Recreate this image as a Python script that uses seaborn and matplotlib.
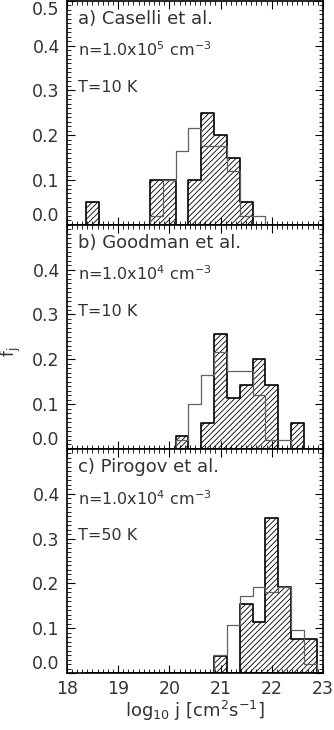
import numpy as np
import pandas as pd
import seaborn as sns
import matplotlib
matplotlib.use("Agg")
import matplotlib.pyplot as plt
from matplotlib.ticker import MultipleLocator

# bin centres (log10 j) and fractions
bin_width = 0.25
bin_edges = np.arange(18.375, 23.2, bin_width).tolist()

panel_labels = ["a) Caselli et al.", "b) Goodman et al.", "c) Pirogov et al."]
density_labels = [r"n=1.0x10$^5$ cm$^{-3}$", r"n=1.0x10$^4$ cm$^{-3}$", r"n=1.0x10$^4$ cm$^{-3}$"]
temp_labels = ["T=10 K", "T=10 K", "T=50 K"]

# observed (hatched)
obs_a_x = [18.5, 19.75, 20.0, 20.5, 20.75, 21.0, 21.25, 21.5]
obs_a_f = [0.05, 0.10, 0.10, 0.10, 0.25, 0.20, 0.15, 0.05]
obs_b_x = [20.25, 20.75, 21.0, 21.25, 21.5, 21.75, 22.0, 22.5]
obs_b_f = [0.0286, 0.0571, 0.257, 0.114, 0.143, 0.200, 0.143, 0.0571]
obs_c_x = [21.0, 21.5, 21.75, 22.0, 22.25, 22.5, 22.75]
obs_c_f = [0.0385, 0.154, 0.115, 0.346, 0.192, 0.077, 0.077]

# model (grey outline)
mod_a_x = [19.75, 20.0, 20.25, 20.5, 20.75, 21.0, 21.25, 21.5, 21.75]
mod_a_f = [0.02, 0.10, 0.165, 0.217, 0.175, 0.175, 0.12, 0.02, 0.02]
mod_b_x = [20.25, 20.5, 20.75, 21.0, 21.25, 21.5, 21.75, 22.0, 22.25]
mod_b_f = [0.02, 0.10, 0.165, 0.217, 0.175, 0.175, 0.12, 0.02, 0.02]
mod_c_x = [21.0, 21.25, 21.5, 21.75, 22.0, 22.25, 22.5, 22.75]
mod_c_f = [0.04, 0.107, 0.173, 0.193, 0.18, 0.193, 0.096, 0.02]

observed = [(obs_a_x, obs_a_f), (obs_b_x, obs_b_f), (obs_c_x, obs_c_f)]
models = [(mod_a_x, mod_a_f), (mod_b_x, mod_b_f), (mod_c_x, mod_c_f)]

sns.set_style("white")
plt.rcParams["font.family"] = ["DejaVu Sans"]
plt.rcParams["hatch.linewidth"] = 0.6
plt.rcParams["mathtext.fontset"] = "dejavusans"

fig, axes = plt.subplots(3, 1, figsize=(3.34, 7.3), dpi=100, sharex=True)
fig.subplots_adjust(left=0.2, right=0.967, top=0.999, bottom=0.078, hspace=0)

for i, ax in enumerate(axes):
    ox, of = observed[i]
    mx, mf = models[i]
    obs_df = pd.DataFrame({"logj": ox, "frac": of})
    mod_df = pd.DataFrame({"logj": mx, "frac": mf})

    sns.histplot(data=obs_df, x="logj", weights="frac", bins=bin_edges,
                 element="step", fill=True, ax=ax, color="black",
                 facecolor="none", edgecolor="black", hatch="//////",
                 linewidth=1.2)
    sns.histplot(data=mod_df, x="logj", weights="frac", bins=bin_edges,
                 element="step", fill=False, ax=ax,
                 color="#606060", linewidth=0.9)

    ax.set_xlim(18, 23)
    ax.set_ylim(0, 0.5)
    ax.set_xlabel("")
    ax.set_ylabel("")

    ax.xaxis.set_major_locator(MultipleLocator(1))
    ax.xaxis.set_minor_locator(MultipleLocator(0.1))
    ax.yaxis.set_minor_locator(MultipleLocator(0.01))
    if i == 0:
        ticks = [0.0, 0.1, 0.2, 0.3, 0.4, 0.5]
    else:
        ticks = [0.0, 0.1, 0.2, 0.3, 0.4]
    ax.set_yticks(ticks)
    ax.set_yticklabels([f"{t:.1f}" for t in ticks])
    labels = ax.get_yticklabels()
    labels[0].set_verticalalignment("bottom")
    if i == 0:
        labels[-1].set_verticalalignment("top")

    ax.tick_params(which="both", direction="in", top=True, right=True,
                   bottom=True, left=True,
                   labelsize=12.5, labelcolor="#333333", color="black")
    ax.tick_params(which="major", length=6, width=0.8, pad=5)
    ax.tick_params(which="minor", length=3, width=0.6)
    for s in ax.spines.values():
        s.set_linewidth(1.2)
        s.set_color("black")

    ax.text(0.045, 0.92, panel_labels[i], transform=ax.transAxes,
            fontsize=13, color="#333333", va="center")
    ax.text(0.045, 0.78, density_labels[i], transform=ax.transAxes,
            fontsize=11.5, color="#333333", va="center")
    ax.text(0.045, 0.615, temp_labels[i], transform=ax.transAxes,
            fontsize=11.5, color="#333333", va="center")

axes[-1].set_xlabel(r"log$_{10}$ j [cm$^2$s$^{-1}$]", fontsize=13,
                    color="#333333", labelpad=1)
fig.text(0.032, 0.518, r"f$_\mathrm{j}$", rotation=90, fontsize=12,
         color="#333333", va="center", ha="center")

fig.savefig("out.png", dpi=100)
